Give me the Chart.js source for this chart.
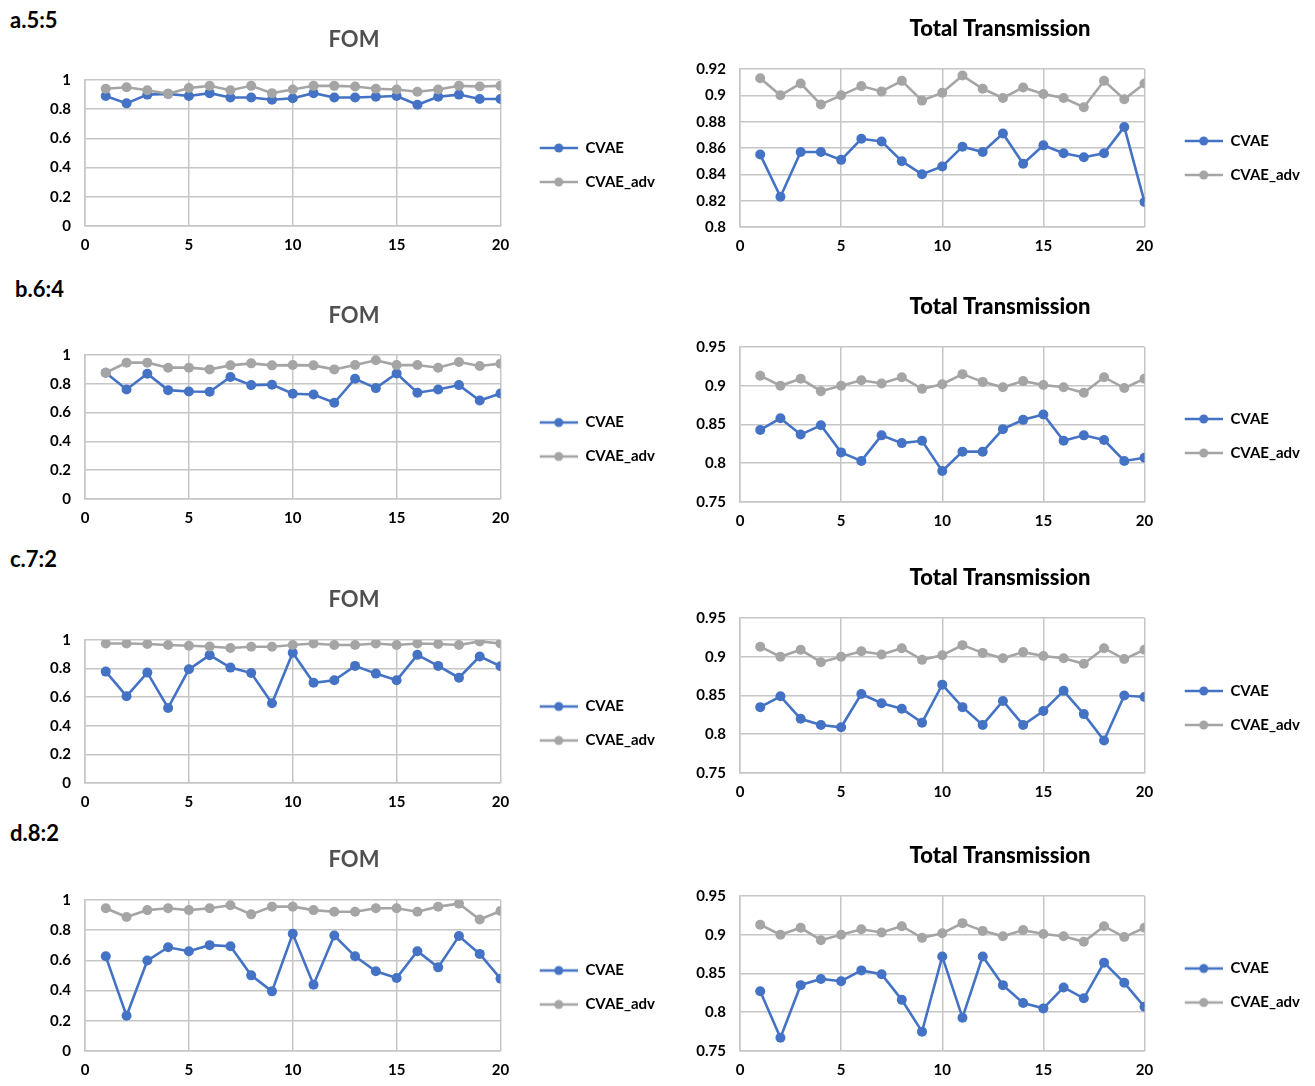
<!DOCTYPE html>
<html>
<head>
<meta charset="utf-8">
<script src="https://cdn.jsdelivr.net/npm/chart.js@4/dist/chart.umd.min.js"></script>
<style>
  body { margin: 0; background: #fff; width: 1315px; height: 1086px; position: relative; overflow: hidden; }
  .tag { position: absolute; font: bold 22px Lato, sans-serif; color: #000; }
  canvas { position: absolute; }
</style>
</head>
<body>
<div class="tag" style="left:10px;top:6px">a.5:5</div>
<div class="tag" style="left:15px;top:275px">b.6:4</div>
<div class="tag" style="left:10px;top:545px">c.7:2</div>
<div class="tag" style="left:10px;top:819px">d.8:2</div>

<canvas id="fomA"></canvas>
<canvas id="transA"></canvas>
<canvas id="fomB"></canvas>
<canvas id="transB"></canvas>
<canvas id="fomC"></canvas>
<canvas id="transC"></canvas>
<canvas id="fomD"></canvas>
<canvas id="transD"></canvas>

<script>
// run index on the x axis
const runs = [1, 2, 3, 4, 5, 6, 7, 8, 9, 10, 11, 12, 13, 14, 15, 16, 17, 18, 19, 20];
const seriesNames = ["CVAE", "CVAE_adv"];

// a. 5:5
const fomA_cvae = [0.89, 0.84, 0.90, 0.905, 0.89, 0.91, 0.88, 0.88, 0.865, 0.875, 0.91, 0.88, 0.88, 0.885, 0.89, 0.83, 0.885, 0.90, 0.87, 0.87];
const fomA_adv = [0.94, 0.95, 0.93, 0.905, 0.945, 0.96, 0.93, 0.96, 0.91, 0.935, 0.96, 0.96, 0.955, 0.94, 0.935, 0.92, 0.935, 0.96, 0.955, 0.96];
const transA_cvae = [0.855, 0.823, 0.857, 0.857, 0.851, 0.867, 0.865, 0.850, 0.840, 0.846, 0.861, 0.857, 0.871, 0.848, 0.862, 0.856, 0.853, 0.856, 0.876, 0.819];

// CVAE_adv transmission is the same run in every row
const transAdv = [0.913, 0.900, 0.909, 0.893, 0.900, 0.907, 0.903, 0.911, 0.896, 0.902, 0.915, 0.905, 0.898, 0.906, 0.901, 0.898, 0.891, 0.911, 0.897, 0.909];

// b. 6:4
const fomB_cvae = [0.877, 0.761, 0.870, 0.756, 0.747, 0.745, 0.847, 0.791, 0.794, 0.731, 0.726, 0.668, 0.835, 0.770, 0.872, 0.738, 0.761, 0.791, 0.684, 0.733];
const fomB_adv = [0.877, 0.947, 0.947, 0.912, 0.912, 0.900, 0.928, 0.942, 0.928, 0.930, 0.928, 0.900, 0.930, 0.963, 0.930, 0.930, 0.912, 0.951, 0.924, 0.940];
const transB_cvae = [0.843, 0.858, 0.837, 0.849, 0.814, 0.803, 0.836, 0.826, 0.829, 0.790, 0.815, 0.815, 0.844, 0.856, 0.863, 0.829, 0.836, 0.830, 0.803, 0.807];

// c. 7:2
const fomC_cvae = [0.779, 0.607, 0.772, 0.525, 0.795, 0.894, 0.807, 0.769, 0.558, 0.911, 0.701, 0.718, 0.819, 0.765, 0.718, 0.896, 0.819, 0.736, 0.885, 0.816];
const fomC_adv = [0.976, 0.976, 0.972, 0.965, 0.960, 0.955, 0.944, 0.953, 0.953, 0.965, 0.976, 0.965, 0.965, 0.976, 0.965, 0.976, 0.972, 0.965, 0.990, 0.976];
const transC_cvae = [0.835, 0.849, 0.820, 0.812, 0.809, 0.852, 0.840, 0.833, 0.815, 0.864, 0.835, 0.812, 0.843, 0.812, 0.830, 0.856, 0.826, 0.792, 0.850, 0.848];

// d. 8:2
const fomD_cvae = [0.627, 0.233, 0.599, 0.687, 0.661, 0.701, 0.694, 0.501, 0.395, 0.776, 0.439, 0.765, 0.627, 0.528, 0.483, 0.661, 0.554, 0.761, 0.643, 0.479];
const fomD_adv = [0.945, 0.887, 0.933, 0.945, 0.933, 0.945, 0.965, 0.905, 0.956, 0.956, 0.933, 0.922, 0.922, 0.945, 0.945, 0.922, 0.956, 0.976, 0.871, 0.927];
const transD_cvae = [0.827, 0.767, 0.835, 0.843, 0.840, 0.854, 0.849, 0.816, 0.775, 0.872, 0.793, 0.872, 0.835, 0.812, 0.805, 0.832, 0.818, 0.864, 0.838, 0.807];

const BLUE = "#4472C4";
const GRAY = "#A5A5A5";
const GRID = "#c6c6c6";
const FONT = "Lato, sans-serif";
const tickFont = { family: FONT, size: 15, weight: "bold" };

// width of the longest legend label, used to size the legend swatch
const mctx = document.createElement("canvas").getContext("2d");
mctx.font = "bold 15px " + FONT;
const labelW = mctx.measureText("CVAE_adv").width;

// legend swatch: line with a dot, drawn at the right end of a wider image
function swatch(color, width) {
  const c = document.createElement("canvas");
  c.width = Math.round(width);
  c.height = 12;
  const g = c.getContext("2d");
  const x0 = c.width - 38;
  g.strokeStyle = color;
  g.lineWidth = 2.5;
  g.beginPath();
  g.moveTo(x0, 6);
  g.lineTo(c.width, 6);
  g.stroke();
  g.fillStyle = color;
  g.beginPath();
  g.arc(x0 + 19, 6, 4.5, 0, Math.PI * 2);
  g.fill();
  return c;
}

function pts(ys) {
  return runs.map((x, i) => ({ x: x, y: ys[i] }));
}

function panel(id, cfg) {
  const cv = document.getElementById(id);
  const top = cfg.titleY - 20;
  const h = cfg.areaBottom - top + 34;
  cv.width = cfg.w;
  cv.height = h;
  cv.style.left = cfg.left + "px";
  cv.style.top = top + "px";

  const legendW = cfg.w - cfg.padRight - (cfg.areaRight - cfg.left);
  const boxW = legendW - 29.5 - 7.5 - labelW;
  const marks = [swatch(BLUE, boxW), swatch(GRAY, boxW)];
  // empty legend title pushes the legend items down to sit beside the plot
  const shift = 2 * (cfg.legendY - (top + h / 2));

  new Chart(cv, {
    type: "scatter",
    data: {
      datasets: [
        { label: seriesNames[0], data: pts(cfg.cvae), borderColor: BLUE, backgroundColor: BLUE, order: 1 },
        { label: seriesNames[1], data: pts(cfg.adv), borderColor: GRAY, backgroundColor: GRAY, order: 0 }
      ]
    },
    options: {
      responsive: false,
      animation: false,
      showLine: true,
      layout: { padding: { left: cfg.padLeft, right: cfg.padRight, top: 0, bottom: 0 } },
      elements: {
        line: { borderWidth: 2.6, tension: 0 },
        point: { radius: 5, borderWidth: 0, hoverRadius: 5 }
      },
      plugins: {
        tooltip: { enabled: false },
        title: {
          display: true,
          text: cfg.title,
          color: cfg.titleColor,
          font: { family: FONT, size: 22, weight: cfg.titleWeight, lineHeight: 1.2 },
          padding: { top: 6.8, bottom: cfg.areaTop - cfg.titleY - 13.2 }
        },
        legend: {
          position: "right",
          maxWidth: 400,
          title: {
            display: true,
            text: " ",
            font: { size: 1, lineHeight: 1 },
            padding: { top: 0, bottom: Math.max(0, shift - 1) }
          },
          labels: {
            usePointStyle: true,
            pointStyleWidth: boxW,
            padding: 19,
            color: "#000",
            font: tickFont,
            generateLabels: (chart) => chart.data.datasets.map((ds, i) => ({
              text: ds.label,
              pointStyle: marks[i],
              fillStyle: ds.borderColor,
              strokeStyle: ds.borderColor,
              lineWidth: 0,
              fontColor: "#000",
              datasetIndex: i
            }))
          }
        }
      },
      scales: {
        x: {
          type: "linear",
          min: 0,
          max: 20,
          ticks: { stepSize: 5, padding: 10, color: "#000", font: tickFont },
          grid: { color: GRID, lineWidth: 1.5, drawTicks: false },
          border: { color: GRID, width: 1.5 },
          afterFit: (s) => { s.height = 34; }
        },
        y: {
          min: cfg.yMin,
          max: cfg.yMax,
          ticks: {
            stepSize: cfg.step,
            padding: 14,
            color: "#000",
            font: tickFont,
            callback: (v) => String(+v.toFixed(2))
          },
          grid: { color: GRID, lineWidth: 1.5, drawTicks: false },
          border: { color: GRID, width: 1.5 },
          afterFit: (s) => { s.width = cfg.yAxisW; }
        }
      }
    }
  });
}

const fomBase = { left: 0, w: 680, padLeft: 43, padRight: 15, yAxisW: 42, areaRight: 500,
  title: "FOM", titleColor: "#505050", titleWeight: "bold", yMin: 0, yMax: 1, step: 0.2 };
const transBase = { left: 690, w: 625, padLeft: 0, padRight: 5, yAxisW: 50, areaRight: 1144,
  title: "Total Transmission", titleColor: "#000", titleWeight: 900 };

panel("fomA", Object.assign({}, fomBase, { titleY: 40, areaTop: 80, areaBottom: 226, legendY: 165, cvae: fomA_cvae, adv: fomA_adv }));
panel("transA", Object.assign({}, transBase, { titleY: 29, areaTop: 69, areaBottom: 227, legendY: 158, yMin: 0.8, yMax: 0.92, step: 0.02, cvae: transA_cvae, adv: transAdv }));
panel("fomB", Object.assign({}, fomBase, { titleY: 316, areaTop: 355, areaBottom: 499, legendY: 439.5, cvae: fomB_cvae, adv: fomB_adv }));
panel("transB", Object.assign({}, transBase, { titleY: 307, areaTop: 347, areaBottom: 502, legendY: 436, yMin: 0.75, yMax: 0.95, step: 0.05, cvae: transB_cvae, adv: transAdv }));
panel("fomC", Object.assign({}, fomBase, { titleY: 600, areaTop: 640, areaBottom: 783, legendY: 723.5, cvae: fomC_cvae, adv: fomC_adv }));
panel("transC", Object.assign({}, transBase, { titleY: 578, areaTop: 618, areaBottom: 773, legendY: 708, yMin: 0.75, yMax: 0.95, step: 0.05, cvae: transC_cvae, adv: transAdv }));
panel("fomD", Object.assign({}, fomBase, { titleY: 860, areaTop: 900, areaBottom: 1051, legendY: 987.5, cvae: fomD_cvae, adv: fomD_adv }));
panel("transD", Object.assign({}, transBase, { titleY: 856, areaTop: 896, areaBottom: 1051, legendY: 985.5, yMin: 0.75, yMax: 0.95, step: 0.05, cvae: transD_cvae, adv: transAdv }));
</script>
</body>
</html>
